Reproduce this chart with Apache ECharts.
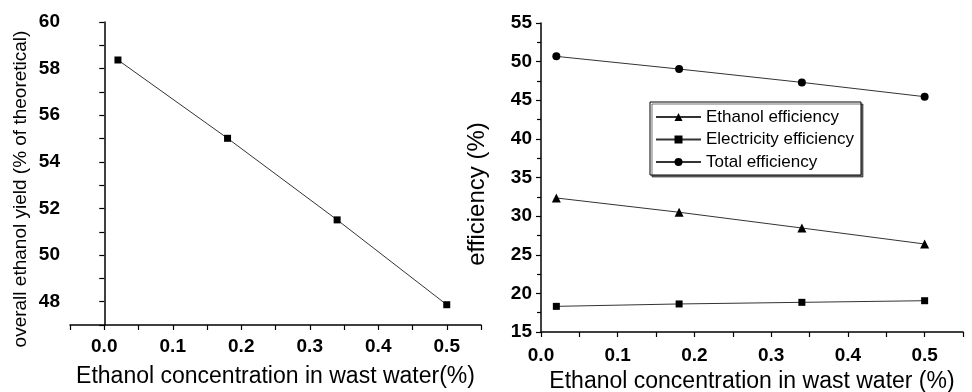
<!DOCTYPE html>
<html>
<head>
<meta charset="utf-8">
<script src="https://cdn.jsdelivr.net/npm/echarts@6/dist/echarts.min.js"></script>
<style>
  html, body { margin: 0; padding: 0; background: #fff; }
  #chart { width: 972px; height: 392px; }
</style>
</head>
<body>
<div id="chart"></div>
<script>
// left panel: yield
var concentration = [0.02, 0.18, 0.34, 0.5];
var yieldValues = [58.37, 55.01, 51.51, 47.87];
// right panel: efficiencies
var ethanolEff = [32.35, 30.5, 28.46, 26.39];
var electricityEff = [18.32, 18.63, 18.84, 19.05];
var totalEff = [50.68, 49.04, 47.31, 45.46];
var seriesNames = ['Ethanol efficiency', 'Electricity efficiency', 'Total efficiency'];

// tick labels
var leftXLabels = [0, 0.1, 0.2, 0.3, 0.4, 0.5];
var leftXTicks = [-0.05, 0, 0.05, 0.1, 0.15, 0.2, 0.25, 0.3, 0.35, 0.4, 0.45, 0.5, 0.55];
var leftYLabels = [48, 50, 52, 54, 56, 58, 60];
var leftYTicks = [47, 48, 49, 50, 51, 52, 53, 54, 55, 56, 57, 58, 59, 60];
var rightXLabels = [0, 0.1, 0.2, 0.3, 0.4, 0.5];
var rightXTicks = [0, 0.05, 0.1, 0.15, 0.2, 0.25, 0.3, 0.35, 0.4, 0.45, 0.5, 0.55];

function pairs(xs, ys) {
  return xs.map(function (x, i) { return [x, ys[i]]; });
}

var font = 'Liberation Sans';
var fmt1 = function (v) { return v.toFixed(1); };
var fmt0 = function (v) { return String(Math.round(v)); };

var axisLine = { show: true, lineStyle: { color: '#000', width: 1.5 } };
var tickStyle = { color: '#000', width: 1.2 };
function labelStyle(margin, fmt, custom) {
  var o = {
    formatter: fmt,
    margin: margin,
    color: '#000',
    fontFamily: font,
    fontWeight: 'bold',
    fontSize: 19
  };
  if (custom) o.customValues = custom;
  return o;
}
var nameStyle = { color: '#000', fontFamily: font, fontSize: 23 };

var myChart = echarts.init(document.getElementById('chart'));
var lineStyle = { color: '#333', width: 1 };

var option = {
  animation: false,
  grid: [
    { left: 70, top: 22, width: 411, height: 303, outerBoundsMode: 'none' },
    { left: 541, top: 23, width: 422, height: 309, outerBoundsMode: 'none' }
  ],
  xAxis: [
    {
      type: 'value', gridIndex: 0, min: -0.05, max: 0.55, interval: 0.05,
      axisLine: axisLine,
      axisTick: { customValues: leftXTicks, length: 5, lineStyle: tickStyle },
      axisLabel: labelStyle(12, fmt1, leftXLabels),
      splitLine: { show: false },
      name: 'Ethanol concentration in wast water(%)',
      nameLocation: 'middle', nameGap: 40,
      nameTextStyle: nameStyle
    },
    {
      type: 'value', gridIndex: 1, min: 0, max: 0.55, interval: 0.05,
      axisLine: axisLine,
      axisTick: { customValues: rightXTicks, length: 5, lineStyle: tickStyle },
      axisLabel: labelStyle(14, fmt1, rightXLabels),
      splitLine: { show: false },
      name: 'Ethanol concentration in wast water (%)',
      nameLocation: 'middle', nameGap: 36,
      nameTextStyle: nameStyle
    }
  ],
  yAxis: [
    {
      type: 'value', gridIndex: 0, min: 47, max: 60, interval: 1,
      axisLine: axisLine,
      axisTick: { customValues: leftYTicks, length: 5, lineStyle: tickStyle },
      axisLabel: labelStyle(10, fmt0, leftYLabels),
      splitLine: { show: false },
      name: 'overall ethanol yield (% of theoretical)',
      nameLocation: 'middle', nameGap: 40,
      nameTextStyle: { color: '#000', fontFamily: font, fontSize: 19, padding: [0, 31, 0, 0] }
    },
    {
      type: 'value', gridIndex: 1, min: 15, max: 55, interval: 5,
      axisLine: axisLine,
      axisTick: { length: 5, lineStyle: tickStyle },
      minorTick: { show: true, splitNumber: 2, length: 4, lineStyle: tickStyle },
      axisLabel: labelStyle(9, fmt0),
      splitLine: { show: false },
      name: 'efficiency (%)',
      nameLocation: 'middle', nameGap: 52,
      nameTextStyle: { color: '#000', fontFamily: font, fontSize: 24, padding: [0, 33, 0, 0] }
    }
  ],
  legend: {
    data: seriesNames,
    orient: 'vertical',
    left: 650,
    top: 102,
    padding: [5, 7, 3, 5],
    itemWidth: 45,
    itemHeight: 10,
    itemGap: 2.5,
    borderColor: '#000',
    borderWidth: 1,
    backgroundColor: '#fff',
    shadowColor: 'rgba(0,0,0,0.55)',
    shadowOffsetX: 2,
    shadowOffsetY: 2,
    shadowBlur: 0,
    textStyle: { color: '#000', fontFamily: font, fontSize: 17, lineHeight: 20 }
  },
  series: [
    {
      name: 'yield', type: 'line', xAxisIndex: 0, yAxisIndex: 0,
      data: pairs(concentration, yieldValues),
      symbol: 'rect', symbolSize: 7,
      itemStyle: { color: '#000' }, lineStyle: lineStyle
    },
    {
      name: seriesNames[0], type: 'line', xAxisIndex: 1, yAxisIndex: 1,
      data: pairs(concentration, ethanolEff),
      symbol: 'triangle', symbolSize: 9,
      itemStyle: { color: '#000' }, lineStyle: lineStyle
    },
    {
      name: seriesNames[1], type: 'line', xAxisIndex: 1, yAxisIndex: 1,
      data: pairs(concentration, electricityEff),
      symbol: 'rect', symbolSize: 7,
      itemStyle: { color: '#000' }, lineStyle: lineStyle
    },
    {
      name: seriesNames[2], type: 'line', xAxisIndex: 1, yAxisIndex: 1,
      data: pairs(concentration, totalEff),
      symbol: 'circle', symbolSize: 8,
      itemStyle: { color: '#000' }, lineStyle: lineStyle
    }
  ]
};

myChart.setOption(option);
</script>
</body>
</html>
